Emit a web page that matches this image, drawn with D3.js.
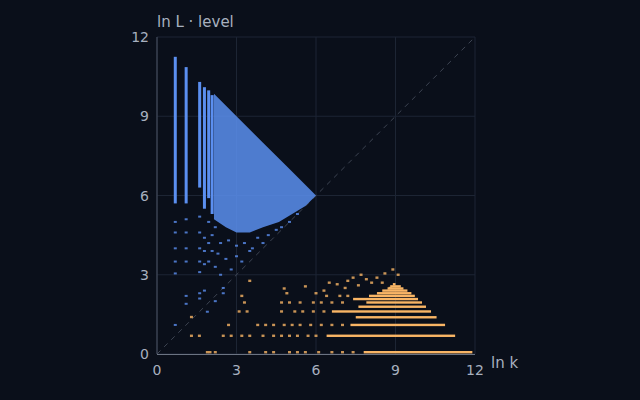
<!DOCTYPE html>
<html><head><meta charset="utf-8">
<script src="https://cdn.jsdelivr.net/npm/d3@7"></script>
<style>body{margin:0;background:#0a0f1a}</style></head>
<body><svg id="c" width="640" height="400"></svg>
<script>
const ticks=[0,3,6,9,12];
// blue columns: x = ln k, solid from bottom to top
const colX=[0.69,1.10,1.61,1.79,1.95,2.08];
const colTop=[11.25,10.86,10.3,10.1,9.98,9.8];
const colBottom=[5.7,5.7,6.3,5.5,5.9,5.3];
// dense blue region outline
const blueRegion=[[2.15,9.85],[3,9.0],[4,8.0],[5,7.0],[6,6.0],[5.6,5.6],[5.1,5.3],[4.6,5.0],[4,4.8],[3.5,4.6],[3,4.6],[2.6,4.8],[2.15,5.1]];
// sparse blue points
const blueSparse=[[0.69,5.0],[0.69,4.6],[0.69,4.0],[0.69,3.5],[0.69,3.05],[0.69,1.1],[1.1,5.1],[1.1,4.6],[1.1,4.0],[1.1,3.5],[1.1,2.2],[1.1,1.9],[1.61,5.2],[1.61,4.6],[1.61,4.0],[1.61,3.5],[1.61,3.1],[1.61,2.3],[1.61,2.1],[1.79,4.4],[1.79,3.9],[1.79,3.4],[1.79,2.4],[1.95,5.0],[1.95,4.2],[1.95,3.5],[2.08,4.5],[2.08,3.9],[2.2,4.8],[2.2,3.3],[2.3,3.8],[2.4,4.2],[2.4,3.0],[2.5,2.5],[2.6,3.6],[2.7,4.3],[2.8,3.2],[3.0,3.7],[3.0,4.1],[3.2,3.5],[3.3,4.2],[3.5,3.9],[3.6,4.0],[3.8,4.4],[4.0,4.2],[4.2,4.5],[4.5,4.7],[4.7,4.8],[5.0,5.0],[5.3,5.3],[2.2,2.0],[2.5,2.3],[1.9,1.6]];
// orange rows: y = ln level
const rowY=[0,0.69,1.10,1.39,1.61,1.79,1.95,2.08,2.20,2.30,2.40,2.48,2.56,2.64];
const rowEnd=[11.9,11.25,10.87,10.55,10.34,10.15,10.0,9.85,9.73,9.6,9.45,9.3,9.2,9.0];
const rowStart=[7.8,6.4,7.3,7.5,6.6,7.6,7.9,7.4,8.0,8.3,8.5,8.7,8.8,8.9];
// sparse orange points
const orangeSparse=[[1.9,0],[2.0,0],[2.2,0],[3.5,0],[4.1,0],[4.4,0],[5.0,0],[5.3,0],[5.6,0],[6.1,0],[6.6,0],[7.0,0],[7.4,0],[1.3,0.69],[1.6,0.69],[2.5,0.69],[2.8,0.69],[3.2,0.69],[3.5,0.69],[4.0,0.69],[4.4,0.69],[4.7,0.69],[5.0,0.69],[5.3,0.69],[5.7,0.69],[6.0,0.69],[2.7,1.1],[3.8,1.1],[4.1,1.1],[4.4,1.1],[4.8,1.1],[5.1,1.1],[5.4,1.1],[5.8,1.1],[6.2,1.1],[6.6,1.1],[7.0,1.1],[3.1,1.61],[3.4,1.61],[4.7,1.61],[5.2,1.61],[5.5,1.61],[5.9,1.61],[6.3,1.61],[3.3,1.95],[4.7,1.95],[5.0,1.95],[5.4,1.95],[5.9,1.95],[6.2,1.95],[6.6,1.95],[7.0,1.95],[6.4,2.2],[6.9,2.2],[7.2,2.2],[3.5,2.77],[4.8,2.48],[5.6,2.56],[6.0,2.3],[6.3,2.4],[6.8,2.64],[7.2,2.77],[7.4,2.89],[7.7,3.0],[7.9,2.83],[8.3,2.89],[8.6,3.05],[8.9,3.2],[9.1,3.0],[7.1,2.5],[7.6,2.6],[8.1,2.7],[8.5,2.7],[8.8,2.5],[6.5,2.7],[4.9,2.3],[3.2,2.2],[1.3,1.4]];

const W=640,H=400,m={l:157,r:475,t:37,b:354};
const x=d3.scaleLinear([0,12],[m.l,m.r]),y=d3.scaleLinear([0,12],[m.b,m.t]);
const svg=d3.select('#c');
svg.append('rect').attr('width',W).attr('height',H).attr('fill','#0a0f1a');
const g=svg.append('g');
ticks.forEach(t=>{
 g.append('line').attr('x1',x(t)).attr('x2',x(t)).attr('y1',m.t).attr('y2',m.b).attr('stroke','#1d2534');
 g.append('line').attr('y1',y(t)).attr('y2',y(t)).attr('x1',m.l).attr('x2',m.r).attr('stroke','#1d2534');
});
g.append('line').attr('x1',x(0)).attr('y1',y(0)).attr('x2',x(12)).attr('y2',y(12)).attr('stroke','#4a5261').attr('stroke-dasharray','5,5').attr('stroke-width',0.8);
const blue='#5b8ff0',orange='#f9b565';
g.append('path').attr('d',d3.line().x(d=>x(d[0])).y(d=>y(d[1]))(blueRegion)+'Z').attr('fill',blue).attr('opacity',0.85);
colX.forEach((c,i)=>g.append('rect').attr('x',x(c)-1.5).attr('width',3).attr('y',y(colTop[i])).attr('height',y(colBottom[i])-y(colTop[i])).attr('fill',blue));
blueSparse.forEach(d=>g.append('rect').attr('x',x(d[0])-1.5).attr('y',y(d[1])-1).attr('width',3).attr('height',2).attr('fill',blue).attr('opacity',0.8));
const yo=v=>v===0?y(0)-3:y(v)-1.2;
rowY.forEach((r,i)=>g.append('rect').attr('x',x(rowStart[i])).attr('width',x(rowEnd[i])-x(rowStart[i])).attr('y',yo(r)).attr('height',2.4).attr('fill',orange));
orangeSparse.forEach(d=>g.append('rect').attr('x',x(d[0])-1.5).attr('y',yo(d[1])).attr('width',3).attr('height',2.4).attr('fill',orange).attr('opacity',0.8));
const ax='#a7b0bf';
g.append('line').attr('x1',m.l).attr('x2',m.l).attr('y1',m.t).attr('y2',m.b).attr('stroke','#4a5262');
g.append('line').attr('x1',m.l).attr('x2',m.r).attr('y1',m.b+0.5).attr('y2',m.b+0.5).attr('stroke','#6b7382').attr('stroke-width',1.2);
const f='DejaVu Sans, sans-serif';
ticks.forEach(t=>{
 svg.append('text').attr('x',x(t)).attr('y',m.b+21).attr('text-anchor','middle').attr('fill',ax).attr('font-family',f).attr('font-size',14).text(t);
 svg.append('text').attr('x',m.l-8).attr('y',y(t)+5).attr('text-anchor','end').attr('fill',ax).attr('font-family',f).attr('font-size',14).text(t);
});
svg.append('text').attr('x',157).attr('y',27).attr('fill',ax).attr('font-family',f).attr('font-size',15).text('ln L · level');
svg.append('text').attr('x',491).attr('y',368).attr('fill',ax).attr('font-family',f).attr('font-size',15).text('ln k');
</script></body></html>
